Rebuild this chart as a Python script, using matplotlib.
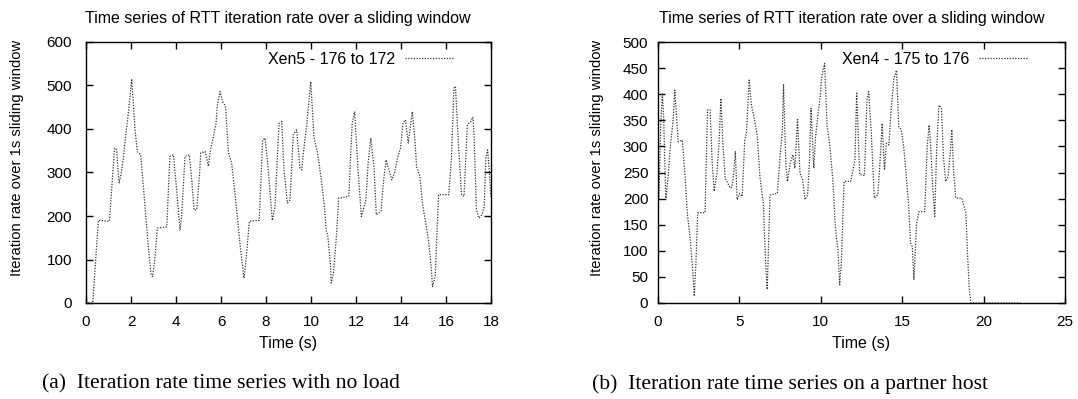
import matplotlib
matplotlib.use("Agg")
import matplotlib.pyplot as plt

# (a) Xen5 - 176 to 172, no load
t_a = [0.1, 0.3, 0.55, 1.04, 1.27, 1.36, 1.47, 1.54, 1.66, 1.76,
       1.88, 2.03, 2.18, 2.28, 2.43, 2.55, 2.67, 2.77, 2.89, 2.96,
       3.07, 3.17, 3.59, 3.73, 3.88, 4.03, 4.18, 4.25, 4.4, 4.59,
       4.7, 4.8, 4.92, 5.04, 5.1, 5.3, 5.44, 5.51, 5.63, 5.78,
       5.84, 5.96, 6.07, 6.2, 6.33, 6.47, 6.62, 6.77, 6.87, 7.02,
       7.1, 7.26, 7.7, 7.85, 7.96, 8.1, 8.28, 8.4, 8.58, 8.7,
       8.8, 8.95, 9.07, 9.21, 9.36, 9.51, 9.59, 9.66, 9.81, 9.99,
       10.13, 10.29, 10.44, 10.59, 10.68, 10.74, 10.86, 10.9, 11.0, 11.13,
       11.23, 11.68, 11.83, 11.94, 12.09, 12.24, 12.44, 12.54, 12.66, 12.81,
       12.9, 13.11, 13.23, 13.34, 13.49, 13.59, 13.71, 13.86, 13.98, 14.09,
       14.2, 14.32, 14.39, 14.5, 14.62, 14.69, 14.84, 14.95, 15.1, 15.22,
       15.34, 15.4, 15.52, 15.67, 16.12, 16.24, 16.35, 16.42, 16.54, 16.69,
       16.8, 16.95, 17.1, 17.2, 17.25, 17.35, 17.47, 17.6, 17.7, 17.77,
       17.85, 17.92, 18.0]
r_a = [0, 0, 190, 188, 356, 352, 276, 291, 333, 383,
       436, 515, 398, 348, 341, 268, 191, 130, 65, 61,
       107, 172, 175, 337, 341, 260, 168, 199, 337, 341,
       283, 214, 214, 291, 345, 348, 314, 345, 375, 413,
       456, 486, 463, 453, 345, 322, 253, 176, 123, 57,
       92, 188, 190, 375, 379, 306, 190, 222, 413, 417,
       306, 230, 237, 387, 398, 310, 306, 345, 410, 509,
       380, 345, 291, 226, 165, 157, 92, 46, 69, 153,
       241, 245, 413, 440, 306, 199, 237, 322, 379, 306,
       203, 211, 283, 329, 302, 283, 299, 337, 356, 413,
       421, 368, 394, 440, 375, 314, 291, 230, 184, 145,
       84, 38, 61, 249, 249, 329, 494, 498, 375, 249,
       245, 410, 417, 427, 383, 214, 195, 203, 222, 333,
       352, 306, 241]

# (b) Xen4 - 175 to 176, partner host loaded
t_b = [0.06, 0.17, 0.27, 0.35, 0.48, 0.62, 0.76, 0.93, 1.03, 1.14,
       1.24, 1.49, 1.65, 1.8, 1.96, 2.1, 2.23, 2.33, 2.44, 2.89,
       3.04, 3.2, 3.33, 3.45, 3.62, 3.76, 3.86, 3.99, 4.13, 4.28,
       4.44, 4.55, 4.65, 4.75, 4.86, 5.02, 5.17, 5.33, 5.43, 5.6,
       5.74, 5.93, 6.1, 6.26, 6.47, 6.61, 6.71, 6.88, 7.33, 7.5,
       7.64, 7.71, 7.85, 7.95, 8.12, 8.29, 8.41, 8.57, 8.72, 8.88,
       9.03, 9.19, 9.3, 9.4, 9.57, 9.67, 9.81, 9.96, 10.06, 10.23,
       10.39, 10.54, 10.74, 10.89, 11.05, 11.16, 11.26, 11.43, 11.84, 11.98,
       12.1, 12.2, 12.39, 12.68, 12.84, 12.94, 13.09, 13.29, 13.5, 13.62,
       13.77, 13.91, 14.03, 14.18, 14.32, 14.49, 14.65, 14.79, 14.94, 15.1,
       15.27, 15.41, 15.51, 15.62, 15.72, 15.88, 16.03, 16.38, 16.54, 16.65,
       16.75, 16.87, 17.0, 17.12, 17.26, 17.41, 17.53, 17.67, 17.82, 17.94,
       18.05, 18.15, 18.29, 18.66, 18.91, 19.01, 19.12, 19.22, 22.3]
r_b = [204, 344, 402, 351, 198, 242, 300, 351, 408, 357,
       309, 312, 249, 172, 128, 77, 13, 77, 173, 173,
       370, 370, 268, 214, 249, 312, 392, 303, 239, 230,
       220, 223, 249, 290, 198, 210, 204, 312, 325, 427,
       379, 351, 319, 242, 191, 77, 26, 207, 210, 281,
       332, 418, 268, 233, 268, 284, 258, 354, 249, 236,
       198, 207, 268, 373, 258, 316, 357, 395, 434, 459,
       338, 306, 236, 147, 102, 35, 77, 233, 233, 255,
       275, 404, 246, 244, 389, 405, 332, 201, 207, 261,
       344, 255, 306, 303, 370, 430, 446, 338, 332, 297,
       236, 179, 115, 108, 45, 153, 175, 175, 300, 341,
       300, 223, 166, 300, 379, 373, 281, 233, 242, 284,
       332, 255, 201, 201, 172, 96, 26, 0, 0]

title = 'Time series of RTT iteration rate over a sliding window'
ylab = 'Iteration rate over 1s sliding window'

plt.rcParams['font.family'] = ['Liberation Sans', 'DejaVu Sans']
fs = 11.5

fig = plt.figure(figsize=(10.78, 3.99), dpi=100)
W, H = 1078, 399


def panel(px0, px1, t, r, label, xmax, xstep, ymax, ystep, tx, ypad, ylx):
    ax = fig.add_axes([px0 / W, 1 - 303 / H, (px1 - px0) / W, 261 / H])
    ax.plot(t, r, color='#333333', lw=0.9, ls=(0, (1, 1.2)), label=label)
    ax.set_xlim(0, xmax)
    ax.set_ylim(0, ymax)
    ax.set_xticks(range(0, xmax + 1, xstep))
    ax.set_yticks(range(0, ymax + 1, ystep))
    ax.tick_params(direction='in', top=True, right=True, length=5,
                   width=1, labelsize=11)
    ax.tick_params(axis='x', pad=8.5)
    ax.tick_params(axis='y', pad=ypad)
    for s in ax.spines.values():
        s.set_linewidth(1.0)
    ax.set_xlabel('Time (s)', fontsize=fs, labelpad=5)
    # y label sits a bit above the axes centre, as in the original
    ax.text((ylx - px0) / (px1 - px0), (303 - 157.5) / 261, ylab,
            transform=ax.transAxes, rotation=90, ha='center', va='center',
            fontsize=10.6)
    ax.text(tx, 1.06, title, transform=ax.transAxes, ha='center',
            va='bottom', fontsize=fs)
    ax.legend(loc='upper right', frameon=False, markerfirst=False,
              handlelength=3.0, handletextpad=0.6, fontsize=fs,
              borderaxespad=0.2, bbox_to_anchor=(0.93, 1.0))
    return ax


panel(86, 491, t_a, r_a, 'Xen5 - 176 to 172', 18, 2, 600, 100, 0.474, 10, 17.5)
panel(658, 1065, t_b, r_b, 'Xen4 - 175 to 176', 25, 5, 500, 50, 0.477, 7, 597.5)

cap = dict(fontsize=15.6, family=['Liberation Serif', 'DejaVu Serif'],
           ha='left', va='center')
fig.text(42 / W, 1 - 384 / H, '(a)  Iteration rate time series with no load', **cap)
fig.text(592 / W, 1 - 384 / H, '(b)  Iteration rate time series on a partner host', **cap)

fig.savefig('out.png', dpi=100)
